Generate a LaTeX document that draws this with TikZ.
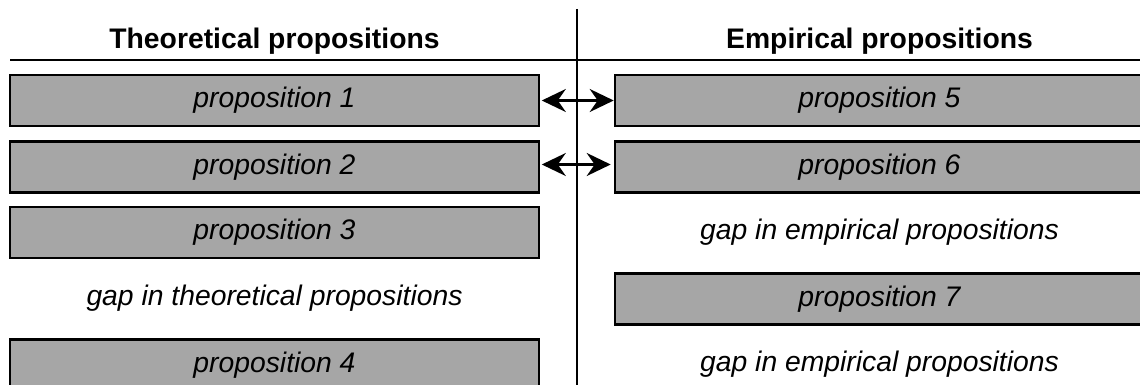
\documentclass[tikz,border=0pt]{standalone}
\usepackage{fontspec}
\setmainfont{Liberation Sans}
\usetikzlibrary{arrows.meta}
\definecolor{propgray}{RGB}{166,166,166}
\begin{document}
\begin{tikzpicture}[x=1pt,y=-1pt,
  txt/.style={font=\fontsize{28.3}{32}\selectfont\itshape, inner sep=0pt},
  prop/.style={txt, draw=black, line width=2.6pt, fill=propgray,
    minimum width=529pt, minimum height=51pt},
  head/.style={font=\fontsize{28.3}{32}\selectfont\bfseries, inner sep=0pt, anchor=base},
  rule/.style={line width=2.2pt},
  tip/.tip={Stealth[length=24pt,width=23pt,inset=8pt]},
  link/.style={line width=2.4pt, tip-tip}]
\useasboundingbox (0,0) rectangle (1140,385);
\begin{scope}
\clip (0,0) rectangle (1140,385);
% column rules
\coordinate (vtop) at (577,9);
\coordinate (vbot) at (577,395);
\coordinate (hl) at (10,60);
\coordinate (hr) at (1160,60);
\draw[rule] (vtop) -- (vbot);
\draw[rule] (hl) -- (hr);
% headings
\node[head] (htheo) at (274.5,49) {Theoretical propositions};
\node[head] (hemp) at (879.5,49) {Empirical propositions};
% theoretical column
\node[prop] (p1) at (274.5,100.5) {proposition 1};
\node[prop] (p2) at (274.5,167) {proposition 2};
\node[prop] (p3) at (274.5,232.5) {proposition 3};
\node[txt]  (gt) at (274.5,298.5) {gap in theoretical propositions};
\node[prop] (p4) at (274.5,365) {proposition 4};
% empirical column
\node[prop] (p5) at (879.5,100.5) {proposition 5};
\node[prop] (p6) at (879.5,167) {proposition 6};
\node[txt]  (ge1) at (879.5,232.5) {gap in empirical propositions};
\node[prop] (p7) at (879.5,299) {proposition 7};
\node[txt]  (ge2) at (879.5,364.5) {gap in empirical propositions};
% links between matching propositions
\draw[link, shorten <=1.5pt] (p1.east) -- (p5.west);
\draw[link, shorten <=1.5pt, shorten >=3pt] ([yshift=2.5pt]p2.east) -- ([yshift=2.5pt]p6.west);
\end{scope}
\end{tikzpicture}
\end{document}
